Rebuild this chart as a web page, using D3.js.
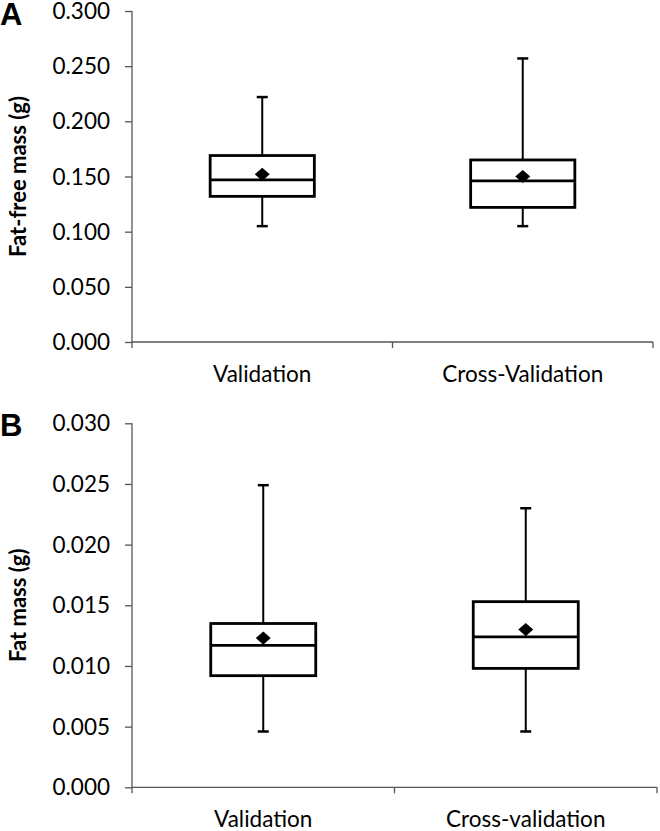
<!DOCTYPE html>
<html>
<head>
<meta charset="utf-8">
<script src="https://cdn.jsdelivr.net/npm/d3@7"></script>
<style>
  html, body { margin: 0; padding: 0; background: #fff; }
  svg { display: block; }
</style>
</head>
<body>
<script>
// ---------- DATA ----------
const categoriesA = ["Validation", "Cross-Validation"];
const ffmMin    = [0.105, 0.105];
const ffmQ1     = [0.132, 0.122];
const ffmMedian = [0.147, 0.146];
const ffmQ3     = [0.169, 0.165];
const ffmMax    = [0.222, 0.257];
const ffmMean   = [0.152, 0.150];
const ticksA    = [0, 0.05, 0.10, 0.15, 0.20, 0.25, 0.30];

const categoriesB = ["Validation", "Cross-validation"];
const fmMin    = [0.0046, 0.0046];
const fmQ1     = [0.0092, 0.0098];
const fmMedian = [0.0117, 0.0124];
const fmQ3     = [0.0135, 0.0153];
const fmMax    = [0.0249, 0.0230];
const fmMean   = [0.0123, 0.0130];
const ticksB   = [0, 0.005, 0.010, 0.015, 0.020, 0.025, 0.030];

// ---------- DRAW ----------
const W = 660, H = 831;
const svg = d3.select("body").append("svg").attr("width", W).attr("height", H);

const FONT = "Lato, 'Open Sans', sans-serif";

function panel(cfg) {
  const g = svg.append("g");
  const x = d3.scaleBand().domain(cfg.cats).range([cfg.x0, cfg.x1]).padding(0);
  const y = d3.scaleLinear().domain([0, cfg.ymax]).range([cfg.yBottom, cfg.yTop]);

  // Y axis
  const ya = g.append("g").attr("transform", `translate(${cfg.x0},0)`)
    .call(d3.axisLeft(y).tickValues(cfg.ticks).tickFormat(d3.format(".3f")).tickSizeInner(7).tickSizeOuter(0).tickPadding(15));
  ya.select(".domain").attr("stroke", "#555").attr("stroke-width", 1.3)
    .attr("d", `M0,${cfg.yTop}V${cfg.yBottom + 6}`);
  ya.selectAll(".tick line").attr("stroke", "#555").attr("stroke-width", 1.3);
  ya.selectAll(".tick text").attr("font-family", FONT).attr("font-size", 22.5).attr("fill", "#000")
    .attr("dy", "0.34em");

  // X axis
  const xa = g.append("g").attr("transform", `translate(0,${cfg.yBottom})`)
    .call(d3.axisBottom(x).tickSize(0).tickPadding(0));
  xa.select(".domain").attr("stroke", "#555").attr("stroke-width", 1.3)
    .attr("d", `M${cfg.x0},0H${cfg.x1}`);
  xa.selectAll(".tick text").attr("font-family", FONT).attr("font-size", 22.5).attr("fill", "#000")
    .attr("dy", 0).attr("y", 40);
  // category boundary ticks
  const bounds = cfg.cats.map(c => x(c)).concat([x(cfg.cats[cfg.cats.length - 1]) + x.bandwidth()]);
  xa.selectAll(".bound").data(bounds.slice(1)).join("line").attr("class", "bound")
    .attr("x1", d => d).attr("x2", d => d).attr("y1", 0).attr("y2", 6)
    .attr("stroke", "#555").attr("stroke-width", 1.3);

  // Boxes
  const bw = x.bandwidth() * 0.4;
  const capW = 11;
  const data = cfg.cats.map((c, i) => ({
    c, min: cfg.min[i], q1: cfg.q1[i], med: cfg.med[i], q3: cfg.q3[i], max: cfg.max[i], mean: cfg.mean[i]
  }));
  const bx = g.selectAll(".box").data(data).join("g").attr("class", "box");
  const cx = d => x(d.c) + x.bandwidth() / 2;
  // whiskers
  bx.append("line").attr("x1", cx).attr("x2", cx).attr("y1", d => y(d.q3)).attr("y2", d => y(d.max))
    .attr("stroke", "#000").attr("stroke-width", 2);
  bx.append("line").attr("x1", cx).attr("x2", cx).attr("y1", d => y(d.q1)).attr("y2", d => y(d.min))
    .attr("stroke", "#000").attr("stroke-width", 2);
  bx.append("line").attr("x1", d => cx(d) - capW / 2).attr("x2", d => cx(d) + capW / 2)
    .attr("y1", d => y(d.max)).attr("y2", d => y(d.max)).attr("stroke", "#000").attr("stroke-width", 2.5);
  bx.append("line").attr("x1", d => cx(d) - capW / 2).attr("x2", d => cx(d) + capW / 2)
    .attr("y1", d => y(d.min)).attr("y2", d => y(d.min)).attr("stroke", "#000").attr("stroke-width", 2.5);
  // box
  bx.append("rect").attr("x", d => cx(d) - bw / 2).attr("width", bw)
    .attr("y", d => y(d.q3)).attr("height", d => y(d.q1) - y(d.q3))
    .attr("fill", "#fff").attr("stroke", "#000").attr("stroke-width", 2.8);
  // median
  bx.append("line").attr("x1", d => cx(d) - bw / 2).attr("x2", d => cx(d) + bw / 2)
    .attr("y1", d => y(d.med)).attr("y2", d => y(d.med)).attr("stroke", "#000").attr("stroke-width", 2.8);
  // mean diamond
  bx.append("path").attr("d", d3.symbol(d3.symbolSquare, 112)())
    .attr("transform", d => `translate(${cx(d)},${y(d.mean)}) scale(1,0.88) rotate(45)`)
    .attr("fill", "#000");

  // Y title
  g.append("text")
    .attr("transform", `translate(${cfg.titleX},${(cfg.yTop + cfg.yBottom) / 2}) rotate(-90)`)
    .attr("text-anchor", "middle").attr("font-family", FONT).attr("font-weight", "bold")
    .attr("font-size", 22).attr("fill", "#000").text(cfg.title);

  // Panel letter
  g.append("text").attr("x", 0).attr("y", cfg.letterY)
    .attr("font-family", "'Liberation Sans', Arial, sans-serif").attr("font-weight", "bold")
    .attr("font-size", 31).attr("fill", "#000").text(cfg.letter);
}

panel({
  cats: categoriesA, min: ffmMin, q1: ffmQ1, med: ffmMedian, q3: ffmQ3, max: ffmMax, mean: ffmMean,
  ticks: ticksA, ymax: 0.30, x0: 132, x1: 653, yTop: 11, yBottom: 342,
  title: "Fat-free mass (g)", titleX: 26, letter: "A", letterY: 25
});

panel({
  cats: categoriesB, min: fmMin, q1: fmQ1, med: fmMedian, q3: fmQ3, max: fmMax, mean: fmMean,
  ticks: ticksB, ymax: 0.030, x0: 132, x1: 657, yTop: 423.3, yBottom: 787.3,
  title: "Fat mass (g)", titleX: 26, letter: "B", letterY: 436
});
</script>
</body>
</html>
